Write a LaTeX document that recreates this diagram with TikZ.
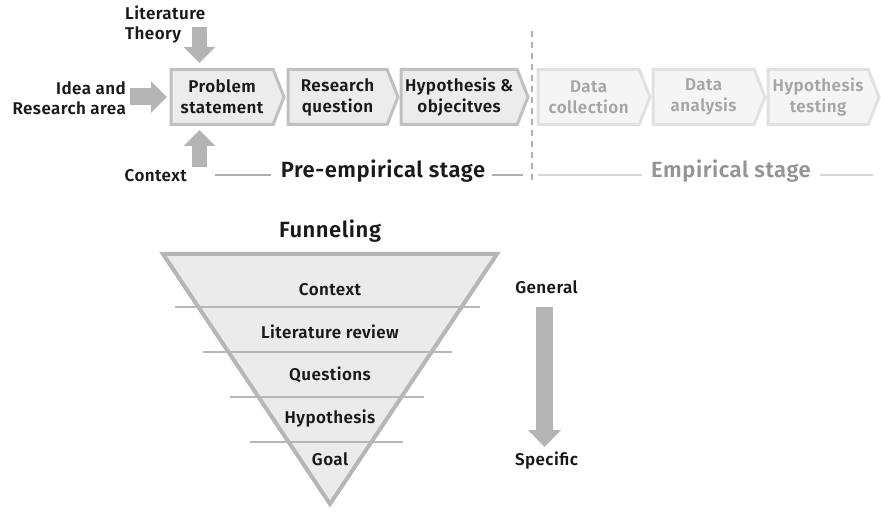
\documentclass[tikz,border=0pt]{standalone}
\usepackage{fontspec}
\setmainfont{Fira Sans}[UprightFont=* SemiBold,BoldFont=* Bold,LetterSpace=2.5]
\usetikzlibrary{shapes.symbols,arrows.meta}
\definecolor{boxfill}{RGB}{236,236,236}
\definecolor{boxline}{RGB}{192,192,192}
\definecolor{efill}{RGB}{245,245,245}
\definecolor{eline}{RGB}{225,225,225}
\definecolor{etext}{RGB}{165,165,165}
\definecolor{arrowc}{RGB}{180,180,180}
\definecolor{stline}{RGB}{175,175,175}
\definecolor{estline}{RGB}{215,215,215}
\definecolor{funfill}{RGB}{235,235,235}
\definecolor{funline}{RGB}{182,182,182}
\definecolor{ink}{RGB}{25,25,25}
\begin{document}
\begin{tikzpicture}[x=1pt,y=-1pt,
  stagebox/.style={shape=signal, signal to=east, signal from=nowhere, signal pointer angle=137,
    line width=3pt, minimum height=55pt, inner sep=0pt, outer sep=0pt, align=center,
    font=\fontsize{17}{21}\selectfont, anchor=west},
  prebox/.style={stagebox, draw=boxline, fill=boxfill, text=ink},
  empbox/.style={stagebox, draw=eline, fill=efill, text=etext},
  blockarrow/.style={draw=arrowc, line width=16pt, -{Triangle[length=16pt,width=31pt]}},
  lbl/.style={font=\fontsize{17}{20}\selectfont, inner sep=0pt, text=ink},
  big/.style={font=\fontsize{22}{26}\selectfont, inner sep=0pt, text=ink},
  stageline/.style={draw=stline, line width=1.2pt},
  funsep/.style={draw=funline, line width=1.5pt}
]
\useasboundingbox (0,0) rectangle (881,513);

% stage boxes
\node[prebox, minimum width=113pt] (ps) at (171,97) {Problem\\statement};
\node[prebox, minimum width=110pt] (rq) at (288,97) {Research\\question};
\node[prebox, minimum width=127pt] (hy) at (401,97) {Hypothesis \&\\objecitves};
\node[empbox, minimum width=112pt] (dc) at (538,97) {Data\\collection};
\node[empbox, minimum width=112pt] (da) at (653,97) {Data\\analysis};
\node[empbox, minimum width=111pt] (ht) at (768,97) {Hypothesis\\testing};

% input labels
\node[lbl, anchor=west, align=left] (lit) at (125,25) {Literature\\Theory};
\node[lbl, anchor=east, align=right] (idea) at (126,98) {Idea and\\Research area};
\node[lbl, anchor=base east] (ctx) at (187,182) {Context};

% input arrows
\coordinate (litarr) at (199.5,27);
\coordinate (ctxarr) at (199.5,167);
\draw[blockarrow, line width=15pt, shorten >=6.5pt] (litarr) -- (litarr |- ps.north);
\draw[blockarrow, line width=17pt, shorten >=4pt] ([xshift=4pt]idea.east |- ps.west) -- (ps.west);
\draw[blockarrow, line width=15pt, shorten >=5.5pt] (ctxarr) -- (ctxarr |- ps.south);

% stage labels and lines
\node[big, anchor=mid] (pre) at (383,175) {Pre-empirical stage};
\node[big, anchor=mid, text=etext!90!black] (emp) at (731,175) {Empirical stage};
\coordinate (dtop) at (532,31);
\coordinate (dbot) at (532,183);
\coordinate (rend) at (873,175);
\draw[draw=stline, line width=1.5pt, dash pattern=on 6pt off 5pt] (dtop) -- (dbot);
\draw[stageline, shorten <=28pt, shorten >=10pt] (ctx.east |- pre.mid) -- (pre.mid west);
\draw[stageline, shorten <=7pt, shorten >=9pt] (pre.mid east) -- (pre.mid -| dbot);
\draw[stageline, draw=estline, shorten <=6pt, shorten >=9pt] (emp.mid -| dbot) -- (emp.mid west);
\draw[stageline, draw=estline, shorten <=9pt] (emp.mid east) -- (rend);

% funnel
\node[big, anchor=base] (fun) at (330,238) {Funneling};
\draw[draw=funline, fill=funfill, line width=4pt, line join=miter] (163,254) -- (497,254) -- (330,504) -- cycle;
\draw[funsep] (175,307) -- (480,307);
\draw[funsep] (203,352) -- (452,352);
\draw[funsep] (230,397) -- (424,397);
\draw[funsep] (250,442) -- (403,442);
\node[lbl, anchor=base] (f1) at (330,295) {Context};
\node[lbl, anchor=base] (f2) at (330,338) {Literature review};
\node[lbl, anchor=base] (f3) at (330,380) {Questions};
\node[lbl, anchor=base] (f4) at (330,423) {Hypothesis};
\node[lbl, anchor=base] (f5) at (330,465) {Goal};

% general -> specific
\node[lbl, anchor=base] (gen) at (546.5,293) {General};
\node[lbl, anchor=base] (spec) at (546.5,465) {Specific};
\draw[blockarrow, line width=17pt, -{Triangle[length=17pt,width=32pt]}] ([xshift=-2pt,yshift=-14pt]gen.base) -- ([xshift=-2pt,yshift=18pt]spec.base);
\end{tikzpicture}
\end{document}
